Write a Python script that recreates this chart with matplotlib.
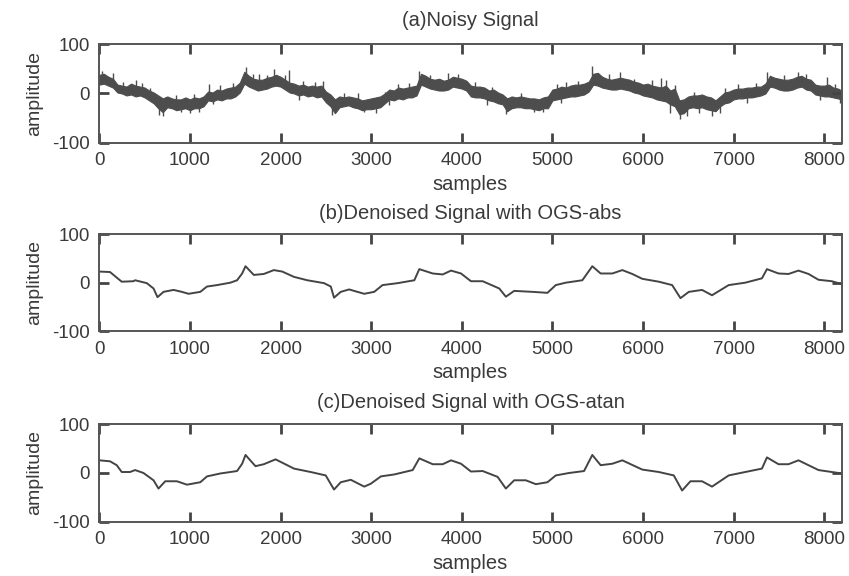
import matplotlib
matplotlib.use("Agg")
import matplotlib.pyplot as plt

matplotlib.rcdefaults()
plt.rcParams['font.family'] = ['Liberation Sans', 'DejaVu Sans']
plt.rcParams['axes.unicode_minus'] = False

# ---------------- data ----------------
x_ticks = [0, 1000, 2000, 3000, 4000, 5000, 6000, 7000, 8000]
y_ticks = [-100, 0, 100]
n_samples = 8192

titles = ["(a)Noisy Signal",
          "(b)Denoised Signal with OGS-abs",
          "(c)Denoised Signal with OGS-atan"]

# (a) noisy signal: band envelope every 50 samples
noisy_x = list(range(0, 8200, 50))[:164] + [8192]
noisy_upper = [38, 40, 34, 30, 18, 16, 14, 20, 16, 14,
               12, 6, 2, -4, -10, -6, -10, -12, -12, -8,
               -12, -8, -10, -6, 4, 2, 8, 6, 10, 12,
               14, 22, 44, 36, 30, 28, 28, 32, 34, 38,
               34, 28, 22, 20, 16, 18, 14, 16, 14, 16,
               4, -2, -12, -6, -8, -6, -8, -10, -14, -12,
               -10, -8, -6, 0, 8, 6, 12, 10, 12, 14,
               16, 40, 36, 30, 28, 30, 26, 28, 34, 32,
               30, 26, 16, 14, 14, 12, 6, 8, 2, -2,
               -10, -6, -8, -6, -8, -10, -10, -12, -8, -6,
               8, 10, 14, 12, 16, 18, 18, 20, 24, 40,
               42, 34, 30, 28, 30, 32, 30, 28, 24, 22,
               18, 20, 16, 14, 12, 16, 6, 10, -14, -12,
               -6, -4, -4, -2, -6, -8, -14, -6, 2, 4,
               8, 10, 10, 12, 12, 14, 14, 20, 36, 32,
               30, 28, 28, 30, 34, 36, 30, 28, 18, 16,
               16, 18, 12, 10, 6]
noisy_lower = [18, 20, 16, 12, 2, 0, -4, -2, -6, -4,
               -8, -14, -20, -30, -38, -28, -30, -34, -32, -30,
               -34, -30, -30, -26, -14, -16, -12, -14, -10, -10,
               -6, 2, 20, 14, 10, 6, 8, 10, 14, 16,
               14, 8, 2, 0, -4, -2, -6, -4, -8, -6,
               -18, -26, -40, -28, -26, -24, -28, -30, -34, -32,
               -32, -30, -28, -20, -12, -14, -10, -12, -8, -8,
               -4, 18, 14, 10, 8, 6, 6, 8, 14, 12,
               10, 6, -6, -8, -8, -10, -14, -16, -20, -22,
               -36, -30, -28, -28, -30, -30, -32, -34, -30, -30,
               -14, -12, -10, -8, -6, -6, -4, -2, 4, 18,
               16, 12, 10, 8, 8, 10, 8, 6, 2, 0,
               -4, -6, -8, -12, -14, -16, -22, -26, -42, -40,
               -30, -28, -30, -28, -32, -34, -36, -26, -20, -18,
               -12, -10, -10, -8, -8, -6, -4, 0, 14, 12,
               8, 6, 6, 8, 12, 14, 8, 6, -2, -4,
               -6, -6, -8, -10, -12]
# isolated noise spikes: position, segment bottom, segment top
spike_x = [30, 150, 260, 405, 470, 560, 850, 1050, 1210, 1330,
           1480, 1613, 1700, 1760, 1850, 1930, 2050, 2090, 2250, 2380,
           2470, 2700, 2850, 3150, 3300, 3420, 3531, 3650, 3845, 3960,
           4150, 4330, 4650, 5050, 5150, 5280, 5440, 5620, 5750, 5900,
           6100, 6200, 6250, 6350, 6560, 6900, 7050, 7250, 7367, 7550,
           7715, 7800, 8030, 8120,
           653, 700, 900, 1000, 1100, 1250, 2200, 2572, 2923, 3050,
           3200, 4280, 4486, 4800, 4900, 5100, 6300, 6413, 6480, 6620,
           6760, 6850, 7150, 7950, 8170]
spike_lo = [30, 25, 5, 5, 0, -10, -20, -20, -5, 0,
            5, 30, 20, 20, 20, 25, 20, 15, 5, 5,
            0, -15, -15, -15, 0, 0, 25, 20, 20, 20,
            5, -5, -15, 0, 0, 5, 30, 20, 20, 10,
            5, 0, 0, -10, -15, -5, 0, 0, 25, 20,
            25, 20, 5, 0,
            -44, -46, -38, -40, -38, -22, -14, -44, -38, -40,
            -24, -24, -41, -38, -38, -20, -40, -51, -46, -40,
            -45, -40, -20, -14, -20]
spike_hi = [46, 42, 24, 28, 22, 12, -4, -2, 20, 18,
            22, 53, 40, 40, 38, 50, 38, 48, 26, 24,
            26, 2, 0, 4, 20, 22, 46, 38, 42, 40,
            24, 14, 2, 20, 24, 26, 56, 40, 43, 30,
            28, 32, 28, 18, 4, 12, 20, 22, 43, 38,
            43, 40, 34, 20,
            -30, -30, -25, -25, -25, -10, -2, -30, -25, -25,
            -10, -10, -30, -25, -25, -5, -20, -35, -30, -25,
            -30, -25, -5, -2, -8]

# (b) denoised with OGS-abs
abs_x = [0, 118, 247, 376, 395, 524, 598, 642, 708, 819, 911, 985,
         1114, 1188, 1299, 1446, 1520, 1576, 1613, 1705, 1815, 1926,
         2018, 2148, 2295, 2480, 2554, 2590, 2664, 2756, 2849, 2923,
         3033, 3125, 3292, 3476, 3531, 3679, 3789, 3881, 3991, 4101,
         4230, 4413, 4486, 4578, 4780, 4945, 5037, 5147, 5330, 5440,
         5532, 5661, 5771, 5881, 5991, 6174, 6321, 6413, 6505, 6651,
         6761, 6945, 7128, 7312, 7367, 7495, 7605, 7715, 7826, 7936,
         8083, 8192]
abs_y = [23, 22, 2, 3, 5, -1, -12, -30, -19, -15, -19, -23,
         -19, -8, -5, 0, 5, 19, 34, 16, 18, 26,
         23, 12, 5, -1, -8, -31, -19, -14, -19, -23,
         -19, -5, -1, 5, 28, 19, 17, 25, 19, 3,
         3, -12, -29, -17, -19, -21, -5, 0, 5, 34,
         19, 19, 26, 18, 8, 2, -5, -32, -19, -15,
         -26, -5, 0, 9, 28, 19, 18, 25, 18, 6,
         3, -3]

# (c) denoised with OGS-atan
atan_x = [0, 118, 192, 247, 339, 395, 487, 598, 653, 727, 856, 967,
          1114, 1188, 1336, 1520, 1576, 1613, 1723, 1815, 1945, 2148,
          2332, 2498, 2590, 2664, 2775, 2923, 2996, 3107, 3255, 3458,
          3531, 3679, 3789, 3881, 3991, 4101, 4230, 4395, 4486, 4578,
          4706, 4817, 4945, 5037, 5184, 5349, 5440, 5532, 5661, 5771,
          5991, 6174, 6339, 6431, 6523, 6651, 6761, 6945, 7128, 7312,
          7367, 7495, 7605, 7715, 7936, 8083, 8192]
atan_y = [26, 24, 16, 2, 2, 6, 0, -15, -32, -17, -17, -24,
          -19, -7, -1, 4, 19, 37, 14, 18, 28, 9,
          2, -5, -34, -19, -14, -28, -22, -7, -3, 6,
          30, 18, 18, 26, 19, 3, 4, -8, -32, -15,
          -15, -23, -19, -5, 0, 4, 37, 16, 19, 26,
          7, 2, -5, -36, -17, -17, -28, -5, 2, 9,
          32, 18, 18, 26, 6, 2, -1]

# ---------------- styling ----------------
line_c = '#444444'
band_c = '#4d4d4d'
axis_c = '#444444'
text_c = '#3a3a3a'

fig = plt.figure(figsize=(8.49, 5.76), dpi=100)
positions = [[0.117, 0.7523, 0.8744, 0.1708],
             [0.117, 0.4253, 0.8744, 0.1679],
             [0.117, 0.0943, 0.8744, 0.1691]]
title_pads = [13, 11, 12]

axes = [fig.add_axes(p) for p in positions]

ax = axes[0]
ax.fill_between(noisy_x, noisy_lower, noisy_upper, facecolor=band_c,
                edgecolor=band_c, lw=0.8)
ax.vlines(spike_x, spike_lo, spike_hi, color=band_c, lw=1.0)

axes[1].plot(abs_x, abs_y, color=line_c, lw=1.4)
axes[2].plot(atan_x, atan_y, color=line_c, lw=1.4)

for ax, t, pad in zip(axes, titles, title_pads):
    ax.set_xlim(0, n_samples)
    ax.set_ylim(-100, 100)
    ax.set_xticks(x_ticks)
    ax.set_yticks(y_ticks)
    ax.tick_params(direction='in', length=7, width=2.0, color=axis_c,
                   top=True, right=True)
    ax.tick_params(labelcolor=text_c, labelsize=13.5, pad=7)
    for s in ax.spines.values():
        s.set_color('#555555')
        s.set_linewidth(1.4)
    ax.set_title(t, fontsize=14.5, color=text_c, pad=pad)
    ax.set_xlabel('samples', fontsize=14.5, color=text_c, labelpad=4)
    ax.set_ylabel('amplitude', fontsize=14, color=text_c, labelpad=6)

fig.savefig('out.png', dpi=100)
